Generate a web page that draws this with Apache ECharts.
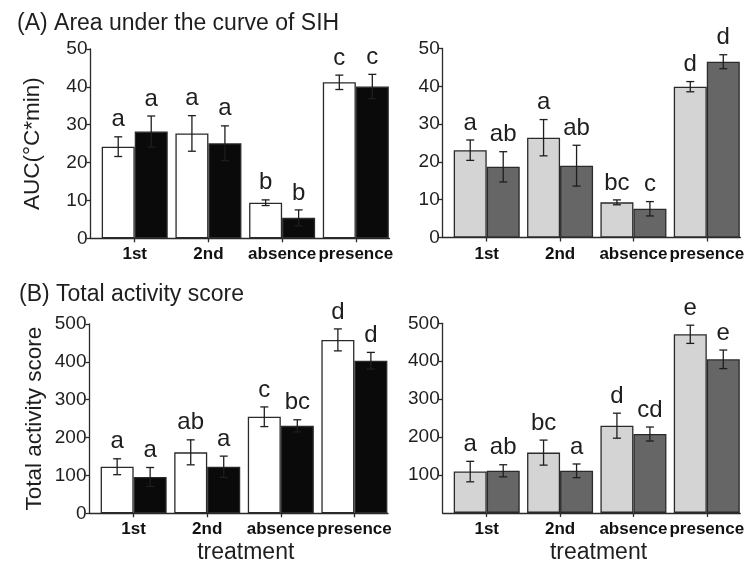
<!DOCTYPE html>
<html>
<head>
<meta charset="utf-8">
<script src="https://cdn.jsdelivr.net/npm/echarts@6/dist/echarts.min.js"></script>
<style>
  html, body { margin: 0; padding: 0; background: #ffffff; }
  #chart { width: 755px; height: 566px; }
</style>
</head>
<body>
<div id="chart"></div>
<script>
// Treatment groups on the x axis
const categories = ['1st', '2nd', 'absence', 'presence'];

// (A) Area under the curve of SIH — left pair (white / black)
const aucWhite = [24.2, 27.7, 9.4, 41.2];
const aucWhiteErr = [2.6, 4.7, 0.75, 1.9];
const aucWhiteLetters = ['a', 'a', 'b', 'c'];
const aucBlack = [28.2, 25.1, 5.4, 40.1];
const aucBlackErr = [4.1, 4.6, 2.1, 3.2];
const aucBlackLetters = ['a', 'a', 'b', 'c'];

// (A) right pair (light grey / dark grey)
const aucLight = [23.1, 26.4, 9.3, 39.9];
const aucLightErr = [2.7, 4.8, 0.65, 1.35];
const aucLightLetters = ['a', 'a', 'bc', 'd'];
const aucDark = [18.7, 19.0, 7.6, 46.5];
const aucDarkErr = [4.0, 5.4, 1.9, 1.85];
const aucDarkLetters = ['ab', 'ab', 'c', 'd'];

// (B) Total activity score — left pair
const actWhite = [123, 161, 255, 458];
const actWhiteErr = [21, 33, 26, 29];
const actWhiteLetters = ['a', 'ab', 'c', 'd'];
const actBlack = [96, 123, 231, 403];
const actBlackErr = [25, 28, 16, 22];
const actBlackLetters = ['a', 'a', 'bc', 'd'];

// (B) right pair
const actLight = [109, 159, 230, 471];
const actLightErr = [27, 33, 33, 24];
const actLightLetters = ['a', 'bc', 'd', 'e'];
const actDark = [111, 111, 208, 405];
const actDarkErr = [16, 18, 18.5, 24.5];
const actDarkLetters = ['ab', 'a', 'cd', 'e'];

// Value-axis ranges
const aucMax = 50, aucStep = 10;
const actMax = 500, actStep = 100;

const FONT = '"Liberation Sans", Arial, Helvetica, sans-serif';
const INK = '#1e1e1e';
const BAR_W = 33;
const CAP = 4;
const LETTER_GAP = 17;

const panels = [
  { grid: { left: 90.5, top: 49, width: 299, height: 189.3 },
    max: aucMax, step: aucStep, yName: 'AUC(°C*min)', nameGap: 46, showZero: true, xName: '',
    a: aucWhite, aErr: aucWhiteErr, aLet: aucWhiteLetters, aColor: '#ffffff',
    b: aucBlack, bErr: aucBlackErr, bLet: aucBlackLetters, bColor: '#0a0a0a' },
  { grid: { left: 442.7, top: 48.5, width: 297.6, height: 189 },
    max: aucMax, step: aucStep, yName: '', nameGap: 0, showZero: true, xName: '',
    a: aucLight, aErr: aucLightErr, aLet: aucLightLetters, aColor: '#d4d4d4',
    b: aucDark, bErr: aucDarkErr, bLet: aucDarkLetters, bColor: '#666666' },
  { grid: { left: 89.5, top: 324, width: 298.5, height: 189.3 },
    max: actMax, step: actStep, yName: 'Total activity score', nameGap: 43, showZero: true, xName: 'treatment',
    a: actWhite, aErr: actWhiteErr, aLet: actWhiteLetters, aColor: '#ffffff',
    b: actBlack, bErr: actBlackErr, bLet: actBlackLetters, bColor: '#0a0a0a' },
  { grid: { left: 442.7, top: 323.3, width: 297.6, height: 189.6 },
    max: actMax, step: actStep, yName: '', nameGap: 0, showZero: false, xName: 'treatment',
    a: actLight, aErr: actLightErr, aLet: actLightLetters, aColor: '#d4d4d4',
    b: actDark, bErr: actDarkErr, bLet: actDarkLetters, bColor: '#666666' }
];

const positions = categories.map((c, i) => i + 1);

// Error bar with cap plus the significance letter above it
function errorBarRenderer(side, letters) {
  return function (params, api) {
    const x = api.value(0), y = api.value(1), e = api.value(2);
    const top = api.coord([x, y + e]);
    const bot = api.coord([x, y - e]);
    const cx = top[0] + side * BAR_W / 2;
    const style = { stroke: INK, lineWidth: 1.3 };
    return {
      type: 'group',
      children: [
        { type: 'line', shape: { x1: cx, y1: top[1], x2: cx, y2: bot[1] }, style },
        { type: 'line', shape: { x1: cx - CAP, y1: top[1], x2: cx + CAP, y2: top[1] }, style },
        { type: 'line', shape: { x1: cx - CAP, y1: bot[1], x2: cx + CAP, y2: bot[1] }, style },
        { type: 'text', x: cx, y: top[1] - LETTER_GAP,
          style: { text: letters[params.dataIndex], fontSize: 24, fontFamily: FONT,
                   fill: INK, align: 'center', verticalAlign: 'middle' } }
      ]
    };
  };
}

const grids = [], xAxes = [], yAxes = [], series = [];
const axisLineStyle = { color: '#2a2a2a', width: 1.3 };

panels.forEach((p, k) => {
  grids.push(Object.assign({ containLabel: false }, p.grid));
  xAxes.push({
    type: 'value', gridIndex: k, min: 0.4, max: 4.457,
    splitLine: { show: false },
    axisLine: { show: true, onZero: false, lineStyle: axisLineStyle },
    axisTick: { show: true, customValues: positions, length: 4, lineStyle: axisLineStyle },
    axisLabel: { customValues: positions, formatter: v => categories[Math.round(v) - 1],
                 fontFamily: FONT, fontWeight: 'bold', fontSize: 17, color: '#111', margin: 8 },
    name: p.xName, nameLocation: 'middle', nameGap: 28,
    nameTextStyle: { fontFamily: FONT, fontSize: 23, color: INK, padding: [0, 0, 0, 14] }
  });
  yAxes.push({
    type: 'value', gridIndex: k, min: 0, max: p.max, interval: p.step,
    splitLine: { show: false },
    axisLine: { show: true, lineStyle: axisLineStyle },
    axisTick: { show: true, length: 4, lineStyle: axisLineStyle },
    axisLabel: { fontFamily: FONT, fontSize: 19, color: INK, margin: 3, showMinLabel: p.showZero },
    name: p.yName, nameLocation: 'middle', nameGap: p.nameGap, nameRotate: 90,
    nameTextStyle: { fontFamily: FONT, fontSize: 22.5, color: INK }
  });
  const pairs = [
    { vals: p.a, err: p.aErr, letters: p.aLet, color: p.aColor, side: -1 },
    { vals: p.b, err: p.bErr, letters: p.bLet, color: p.bColor, side: 1 }
  ];
  pairs.forEach(s => {
    series.push({
      type: 'bar', xAxisIndex: k, yAxisIndex: k,
      barWidth: BAR_W, barGap: '0%',
      data: s.vals.map((v, i) => [positions[i], v]),
      itemStyle: { color: s.color, borderColor: '#2a2a2a', borderWidth: 1.3 },
      silent: true, animation: false
    });
  });
  pairs.forEach(s => {
    series.push({
      type: 'custom', xAxisIndex: k, yAxisIndex: k, z: 5,
      renderItem: errorBarRenderer(s.side, s.letters),
      encode: { x: 0, y: 1 },
      data: s.vals.map((v, i) => [positions[i], v, s.err[i]]),
      silent: true, animation: false, clip: false
    });
  });
});

const chart = echarts.init(document.getElementById('chart'), null, { renderer: 'canvas' });
chart.setOption({
  backgroundColor: '#ffffff',
  animation: false,
  title: [
    { text: '(A) Area under the curve of SIH', left: 12, top: 7,
      textStyle: { fontFamily: FONT, fontSize: 23, fontWeight: 'normal', color: INK } },
    { text: '(B) Total activity score', left: 14, top: 278,
      textStyle: { fontFamily: FONT, fontSize: 23, fontWeight: 'normal', color: INK } }
  ],
  grid: grids,
  xAxis: xAxes,
  yAxis: yAxes,
  series: series
});
</script>
</body>
</html>
